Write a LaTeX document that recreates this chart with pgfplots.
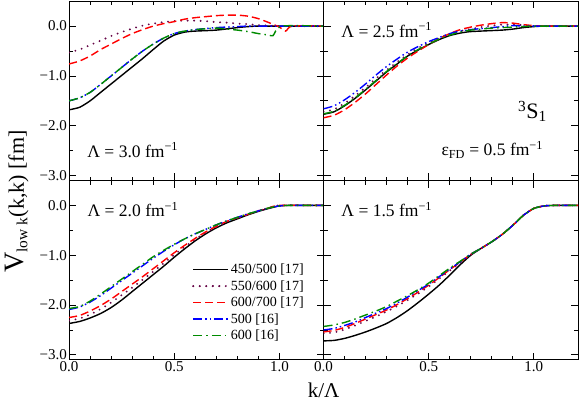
\documentclass[border=0pt]{standalone}
\usepackage{fontspec}
\setmainfont{Liberation Serif}
\usepackage{pgfplots}
\pgfplotsset{compat=1.18}
\usepgfplotslibrary{groupplots}

\definecolor{grmaroon}{RGB}{103,7,72}
\definecolor{grgreen}{RGB}{0,139,0}

\tikzset{
  s450/.style={color=black, line width=1.4pt, solid},
  s550/.style={color=grmaroon, line width=2.1pt, line cap=round, dash pattern=on 0pt off 6.5pt},
  s600/.style={color=red, line width=1.4pt, dash pattern=on 8pt off 4pt},
  s500/.style={color=blue, line width=1.4pt, dash pattern=on 9pt off 3pt on 1.5pt off 3pt on 1.5pt off 3pt},
  s600e/.style={color=grgreen, line width=1.4pt, dash pattern=on 9pt off 4pt on 1.5pt off 4pt},
  lam/.style={anchor=base west, inner sep=0pt, font=\fontsize{17.5}{20}\selectfont},
}

\begin{document}
\begin{tikzpicture}
\begin{groupplot}[
  group style={group size=2 by 2, horizontal sep=0pt, vertical sep=0pt},
  scale only axis, width=254pt, height=179pt,
  xmin=0, xmax=1.21, ymin=-3.1, ymax=0.5,
  xtick={0,0.5,1}, minor x tick num=4,
  ytick={-3,-2,-1,0}, minor y tick num=1,
  tick align=inside, major tick length=7pt, minor tick length=4pt,
  every tick/.style={black, line width=0.8pt},
  axis line style={line width=0.9pt},
  tick label style={font=\fontsize{15}{15}\selectfont},
  xticklabel style={inner sep=1pt},
  yticklabel style={inner sep=2pt},
  every axis plot/.append style={smooth, tension=0.4, no markers},
]
%-- Lambda = 3.0
\nextgroupplot[xticklabels={}, yticklabels={−3.0,−2.0,−1.0,0.0}]
\addplot[s450] coordinates {(0,-1.68)(0.05,-1.63)(0.1,-1.50)(0.15,-1.33)(0.2,-1.16)(0.25,-0.99)(0.3,-0.82)(0.35,-0.65)(0.4,-0.47)(0.45,-0.30)(0.5,-0.18)(0.55,-0.12)(0.6,-0.10)(0.7,-0.08)(0.8,-0.03)(0.85,-0.01)(0.9,0)(1.0,0)(1.21,0)};
\addplot[s550] coordinates {(0,-0.53)(0.05,-0.47)(0.1,-0.38)(0.15,-0.29)(0.2,-0.20)(0.25,-0.12)(0.3,-0.05)(0.35,0.01)(0.4,0.05)(0.45,0.08)(0.5,0.10)(0.55,0.11)(0.6,0.11)(0.65,0.10)(0.7,0.08)(0.75,0.07)(0.8,0.05)(0.85,0.04)(0.9,0.02)(0.95,0.01)(1.0,0)(1.21,0)};
\addplot[s600] coordinates {(0,-0.76)(0.05,-0.70)(0.1,-0.60)(0.15,-0.47)(0.2,-0.36)(0.25,-0.25)(0.3,-0.15)(0.35,-0.07)(0.4,0.00)(0.45,0.05)(0.5,0.09)(0.55,0.14)(0.6,0.17)(0.65,0.19)(0.7,0.21)(0.75,0.22)(0.8,0.22)(0.85,0.20)(0.9,0.15)(0.95,0.07)(1.0,-0.02)(1.03,-0.10)(1.06,0)(1.21,0)};
\addplot[s500] coordinates {(0,-1.50)(0.05,-1.44)(0.1,-1.33)(0.15,-1.17)(0.2,-1.00)(0.25,-0.83)(0.3,-0.66)(0.35,-0.50)(0.4,-0.36)(0.45,-0.24)(0.5,-0.15)(0.55,-0.10)(0.6,-0.07)(0.7,-0.03)(0.8,-0.01)(0.85,0)(1.0,0)(1.21,0)};
\addplot[s600e] coordinates {(0,-1.50)(0.05,-1.44)(0.1,-1.33)(0.15,-1.17)(0.2,-1.00)(0.25,-0.83)(0.3,-0.66)(0.35,-0.50)(0.4,-0.36)(0.45,-0.24)(0.5,-0.15)(0.55,-0.10)(0.6,-0.07)(0.7,-0.04)(0.75,-0.06)(0.8,-0.08)(0.85,-0.11)(0.9,-0.15)(0.95,-0.18)(0.97,-0.19)(1.01,0)(1.21,0)};
\node[lam] at (axis cs:0.086,-2.63) {Λ = 3.0 fm\textsuperscript{−1}};

%-- Lambda = 2.5
\nextgroupplot[xticklabels={}, yticklabels={}]
\addplot[s450] coordinates {(0,-1.77)(0.05,-1.72)(0.1,-1.60)(0.15,-1.45)(0.2,-1.28)(0.25,-1.10)(0.3,-0.92)(0.35,-0.76)(0.4,-0.60)(0.45,-0.48)(0.5,-0.37)(0.55,-0.27)(0.6,-0.19)(0.65,-0.14)(0.7,-0.11)(0.8,-0.09)(0.85,-0.08)(0.9,-0.06)(0.95,-0.03)(1.0,-0.01)(1.05,0)(1.21,0)};
\addplot[s550] coordinates {(0,-1.72)(0.05,-1.67)(0.1,-1.55)(0.15,-1.40)(0.2,-1.23)(0.25,-1.05)(0.3,-0.88)(0.35,-0.72)(0.4,-0.57)(0.45,-0.44)(0.5,-0.33)(0.55,-0.24)(0.6,-0.16)(0.65,-0.10)(0.7,-0.06)(0.75,-0.02)(0.8,0.01)(0.85,0.03)(0.9,0.03)(0.95,0.02)(1.0,0)(1.21,0)};
\addplot[s600] coordinates {(0,-1.84)(0.05,-1.79)(0.1,-1.68)(0.15,-1.53)(0.2,-1.36)(0.25,-1.17)(0.3,-0.98)(0.35,-0.80)(0.4,-0.64)(0.45,-0.50)(0.5,-0.37)(0.55,-0.25)(0.6,-0.15)(0.65,-0.07)(0.7,-0.02)(0.75,0.02)(0.8,0.05)(0.85,0.07)(0.9,0.06)(0.95,0.03)(1.0,0.01)(1.05,0)(1.21,0)};
\addplot[s500] coordinates {(0,-1.66)(0.05,-1.60)(0.1,-1.48)(0.15,-1.33)(0.2,-1.16)(0.25,-0.98)(0.3,-0.81)(0.35,-0.66)(0.4,-0.52)(0.45,-0.41)(0.5,-0.31)(0.55,-0.23)(0.6,-0.15)(0.65,-0.10)(0.7,-0.07)(0.75,-0.05)(0.8,-0.03)(0.85,-0.01)(0.9,0.01)(0.95,0)(1.0,0)(1.21,0)};
\addplot[s600e] coordinates {(0,-1.76)(0.05,-1.71)(0.1,-1.59)(0.15,-1.44)(0.2,-1.27)(0.25,-1.09)(0.3,-0.91)(0.35,-0.75)(0.4,-0.60)(0.45,-0.47)(0.5,-0.36)(0.55,-0.26)(0.6,-0.18)(0.65,-0.12)(0.7,-0.08)(0.75,-0.06)(0.8,-0.04)(0.85,-0.03)(0.9,-0.02)(0.95,-0.01)(1.0,0)(1.21,0)};
\node[lam] at (axis cs:0.084,-0.22) {Λ = 2.5 fm\textsuperscript{−1}};
\node[anchor=base west, inner sep=0pt, font=\fontsize{22}{24}\selectfont] at (axis cs:0.924,-1.86) {\textsuperscript{3}S\textsubscript{1}};
\node[lam] at (axis cs:0.56,-2.60) {ε\textsubscript{FD} = 0.5 fm\textsuperscript{−1}};

%-- Lambda = 2.0
\nextgroupplot[xticklabels={0.0,0.5,1.0}, yticklabels={−3.0,−2.0,−1.0,0.0},
  legend style={at={(axis cs:0.57,-1.10)}, anchor=north west, draw=white, fill=none,
    font=\fontsize{14}{14}\selectfont, row sep=2.3pt, nodes={inner sep=1.5pt}},
  legend cell align=left,
  legend image code/.code={\draw[#1] (0pt,0pt) -- (30pt,0pt); \path (0pt,0pt) -- (35pt,0pt);}]
\addplot[s450] coordinates {(0,-2.37)(0.05,-2.33)(0.1,-2.26)(0.15,-2.17)(0.2,-2.05)(0.25,-1.90)(0.3,-1.73)(0.35,-1.56)(0.4,-1.39)(0.45,-1.22)(0.5,-1.04)(0.55,-0.87)(0.6,-0.71)(0.65,-0.57)(0.7,-0.45)(0.75,-0.35)(0.8,-0.27)(0.85,-0.19)(0.9,-0.12)(0.95,-0.06)(1.0,-0.01)(1.05,0)(1.21,0)};
\addlegendentry{450/500 [17]}
\addplot[s550] coordinates {(0,-2.31)(0.05,-2.27)(0.1,-2.19)(0.15,-2.08)(0.2,-1.95)(0.25,-1.80)(0.3,-1.65)(0.35,-1.49)(0.4,-1.33)(0.45,-1.16)(0.5,-0.99)(0.55,-0.83)(0.6,-0.68)(0.65,-0.54)(0.7,-0.43)(0.75,-0.33)(0.8,-0.25)(0.85,-0.18)(0.9,-0.11)(0.95,-0.05)(1.0,0)(1.21,0)};
\addlegendentry{550/600 [17]}
\addplot[s600] coordinates {(0,-2.25)(0.05,-2.21)(0.1,-2.12)(0.15,-2.01)(0.2,-1.88)(0.25,-1.73)(0.3,-1.58)(0.35,-1.43)(0.4,-1.27)(0.45,-1.11)(0.5,-0.95)(0.55,-0.80)(0.6,-0.66)(0.65,-0.53)(0.7,-0.42)(0.75,-0.32)(0.8,-0.25)(0.85,-0.18)(0.9,-0.11)(0.95,-0.05)(1.0,0)(1.21,0)};
\addlegendentry{600/700 [17]}
\addplot[s500] coordinates {(0,-2.09)(0.05,-2.04)(0.1,-1.94)(0.15,-1.81)(0.2,-1.66)(0.25,-1.51)(0.3,-1.36)(0.35,-1.21)(0.4,-1.06)(0.45,-0.92)(0.5,-0.79)(0.55,-0.67)(0.6,-0.57)(0.65,-0.48)(0.7,-0.39)(0.75,-0.31)(0.8,-0.24)(0.85,-0.17)(0.9,-0.11)(0.95,-0.05)(1.0,-0.01)(1.05,0)(1.21,0)};
\addlegendentry{500 [16]}
\addplot[s600e] coordinates {(0,-2.07)(0.05,-2.03)(0.1,-1.92)(0.15,-1.78)(0.2,-1.63)(0.25,-1.48)(0.3,-1.33)(0.35,-1.18)(0.4,-1.03)(0.45,-0.90)(0.5,-0.78)(0.55,-0.67)(0.6,-0.57)(0.65,-0.48)(0.7,-0.39)(0.75,-0.31)(0.8,-0.24)(0.85,-0.17)(0.9,-0.11)(0.95,-0.05)(1.0,-0.01)(1.05,0)(1.21,0)};
\addlegendentry{600 [16]}
\node[lam] at (axis cs:0.087,-0.22) {Λ = 2.0 fm\textsuperscript{−1}};

%-- Lambda = 1.5
\nextgroupplot[xticklabels={0.0,0.5,1.0}, yticklabels={}]
\addplot[s450] coordinates {(0,-2.72)(0.05,-2.71)(0.1,-2.67)(0.15,-2.61)(0.2,-2.54)(0.25,-2.46)(0.3,-2.37)(0.35,-2.25)(0.4,-2.11)(0.45,-1.95)(0.5,-1.78)(0.55,-1.60)(0.6,-1.40)(0.65,-1.19)(0.7,-1.00)(0.75,-0.86)(0.8,-0.73)(0.85,-0.58)(0.9,-0.40)(0.95,-0.20)(1.0,-0.06)(1.05,-0.01)(1.1,0)(1.21,0)};
\addplot[s550] coordinates {(0,-2.57)(0.05,-2.55)(0.1,-2.49)(0.15,-2.41)(0.2,-2.32)(0.25,-2.23)(0.3,-2.13)(0.35,-2.02)(0.4,-1.90)(0.45,-1.77)(0.5,-1.63)(0.55,-1.47)(0.6,-1.31)(0.65,-1.15)(0.7,-0.99)(0.75,-0.86)(0.8,-0.73)(0.85,-0.58)(0.9,-0.40)(0.95,-0.20)(1.0,-0.06)(1.05,-0.01)(1.1,0)(1.21,0)};
\addplot[s600] coordinates {(0,-2.54)(0.05,-2.51)(0.1,-2.45)(0.15,-2.37)(0.2,-2.28)(0.25,-2.19)(0.3,-2.10)(0.35,-1.99)(0.4,-1.87)(0.45,-1.74)(0.5,-1.60)(0.55,-1.45)(0.6,-1.29)(0.65,-1.14)(0.7,-0.98)(0.75,-0.86)(0.8,-0.73)(0.85,-0.58)(0.9,-0.40)(0.95,-0.20)(1.0,-0.06)(1.05,-0.01)(1.1,0)(1.21,0)};
\addplot[s500] coordinates {(0,-2.50)(0.05,-2.47)(0.1,-2.41)(0.15,-2.34)(0.2,-2.25)(0.25,-2.16)(0.3,-2.07)(0.35,-1.96)(0.4,-1.84)(0.45,-1.71)(0.5,-1.58)(0.55,-1.43)(0.6,-1.28)(0.65,-1.13)(0.7,-0.98)(0.75,-0.86)(0.8,-0.73)(0.85,-0.58)(0.9,-0.40)(0.95,-0.20)(1.0,-0.06)(1.05,-0.01)(1.1,0)(1.21,0)};
\addplot[s600e] coordinates {(0,-2.43)(0.05,-2.40)(0.1,-2.35)(0.15,-2.28)(0.2,-2.20)(0.25,-2.12)(0.3,-2.03)(0.35,-1.92)(0.4,-1.81)(0.45,-1.69)(0.5,-1.56)(0.55,-1.41)(0.6,-1.26)(0.65,-1.12)(0.7,-0.98)(0.75,-0.86)(0.8,-0.73)(0.85,-0.58)(0.9,-0.40)(0.95,-0.20)(1.0,-0.06)(1.05,-0.01)(1.1,0)(1.21,0)};
\node[lam] at (axis cs:0.084,-0.22) {Λ = 1.5 fm\textsuperscript{−1}};
\end{groupplot}

\node[rotate=90, font=\fontsize{22}{24}\selectfont] at ([shift={(-52pt,-200pt)}]group c1r1.north west)
  {{\fontsize{28}{28}\selectfont V}\textsubscript{low k}(k,k) [fm]};
\node[font=\fontsize{21}{24}\selectfont] at ([shift={(0pt,-30pt)}]group c2r2.south west) {k/Λ};
\path ([shift={(-69pt,1.2pt)}]group c1r1.north west) rectangle ([shift={(3pt,-39.7pt)}]group c2r2.south east);
\end{tikzpicture}
\end{document}
